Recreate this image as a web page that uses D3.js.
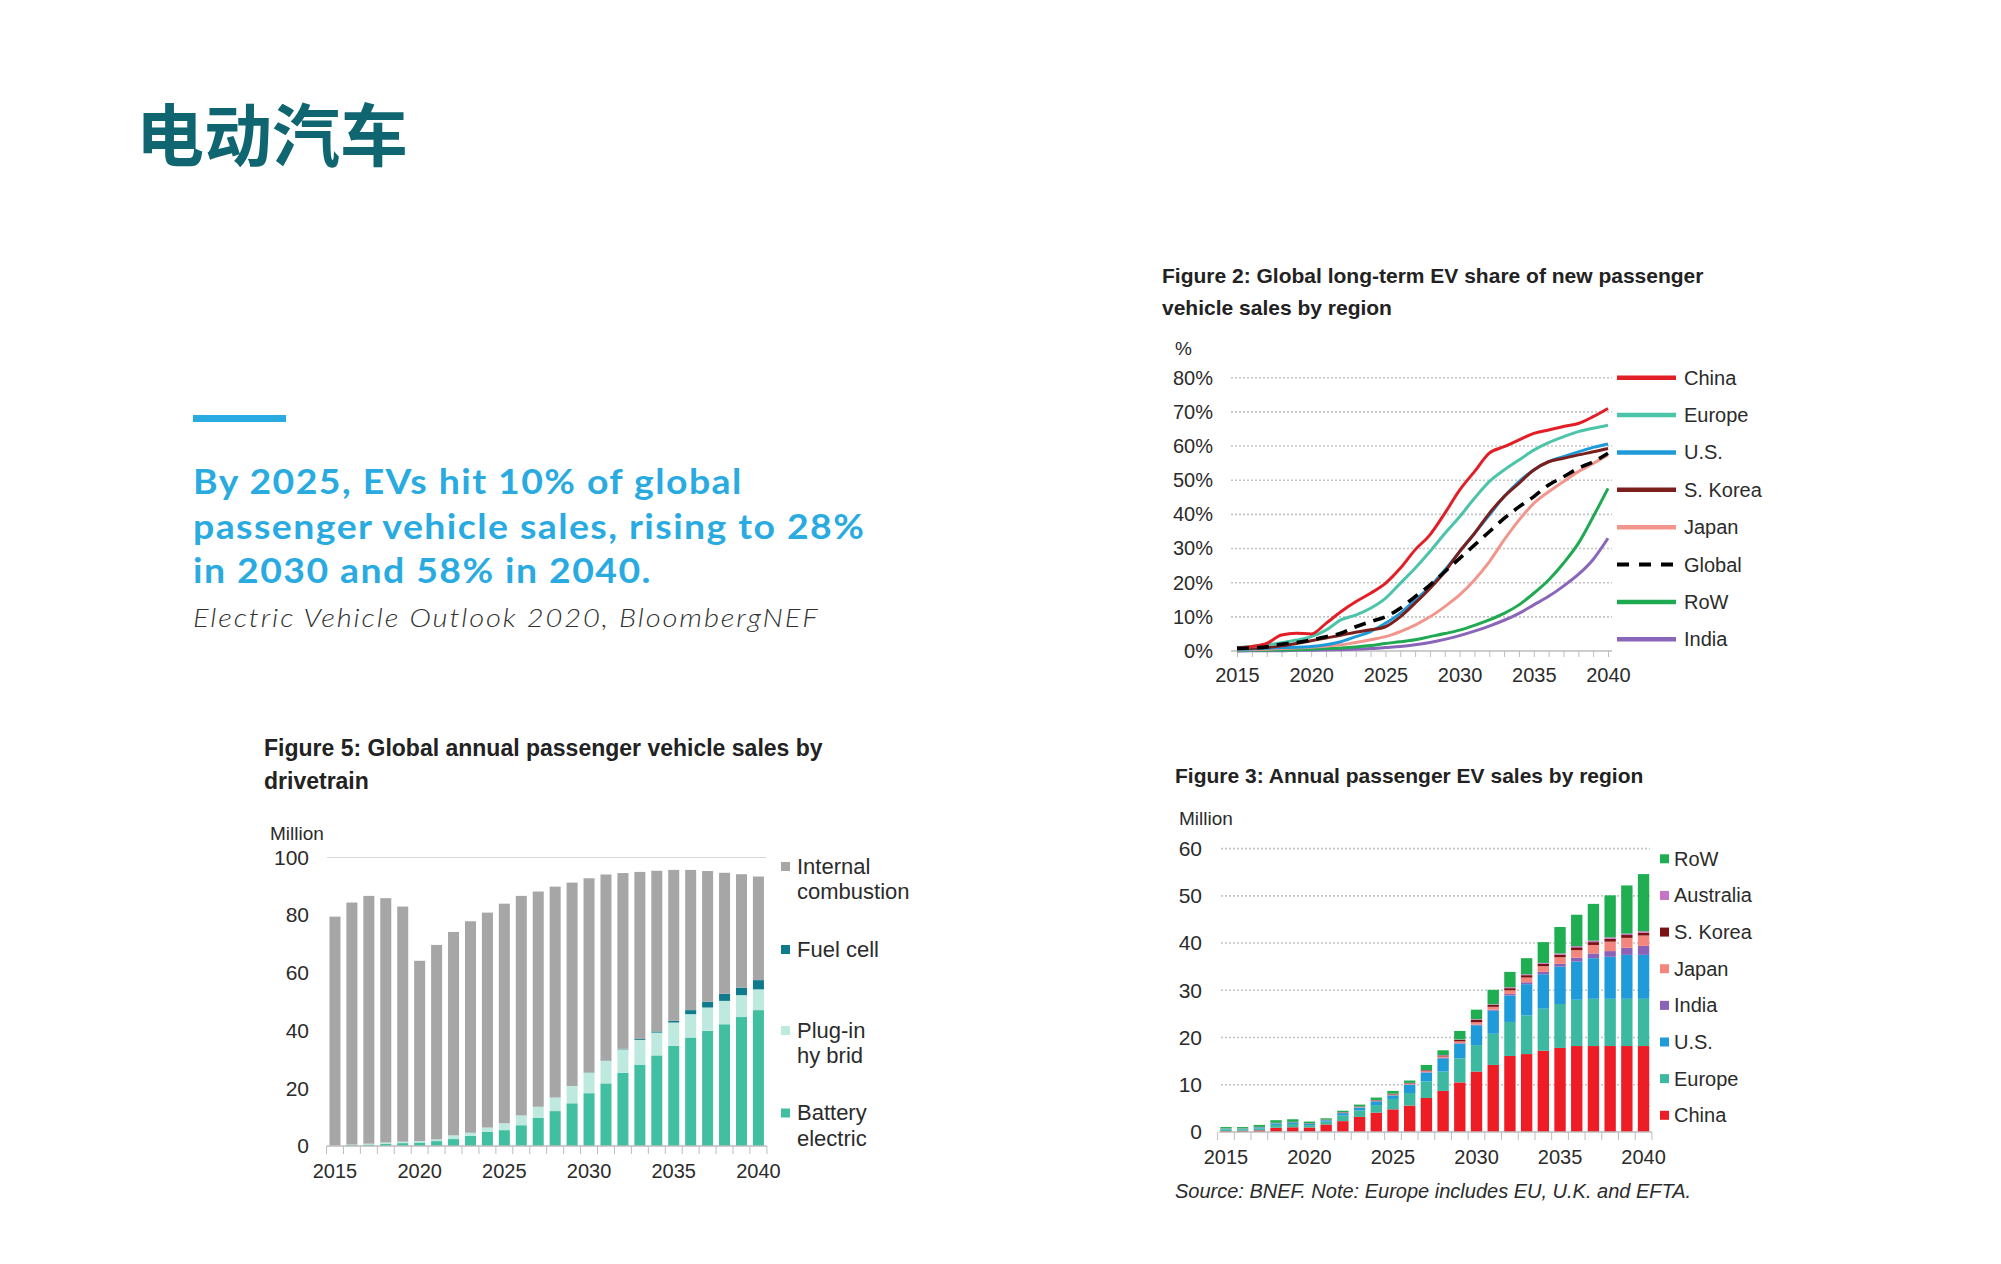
<!DOCTYPE html>
<html><head><meta charset="utf-8">
<script src="https://cdn.jsdelivr.net/npm/d3@7"></script>
<style>body{margin:0;background:#fff;} svg{display:block}</style>
</head><body>
<svg id="c" width="2001" height="1264"></svg>
<script>
// ---------- DATA ----------
const years = [2015,2016,2017,2018,2019,2020,2021,2022,2023,2024,2025,2026,2027,2028,2029,2030,2031,2032,2033,2034,2035,2036,2037,2038,2039,2040];
const yearTicks = [2015,2020,2025,2030,2035,2040];

const pageTitle = "电动汽车";
const headlineLines = ["By 2025, EVs hit 10% of global","passenger vehicle sales, rising to 28%","in 2030 and 58% in 2040."];
const headlineSource = "Electric Vehicle Outlook 2020, BloombergNEF";

// Figure 2: EV share (%) of new passenger vehicle sales
const fig2Title = ["Figure 2: Global long-term EV share of new passenger","vehicle sales by region"];
const fig2YTicks = [0,10,20,30,40,50,60,70,80];
const shareChina  = [0.8,1.3,2.2,4.7,5.2,5.0,8.1,11.5,14.4,16.9,19.8,24.2,29.6,34.0,40.3,47.1,52.5,57.9,59.8,61.8,63.7,64.7,65.7,66.6,68.6,71.0];
const shareEurope = [1.0,1.3,1.8,2.4,3.2,4.2,6.1,9.1,10.5,12.5,15.4,19.8,24.2,29.1,34.4,39.3,44.7,49.6,53.0,55.9,58.8,61.0,62.7,64.2,65.2,66.1];
const shareUS     = [0.5,0.6,0.8,1.0,1.1,1.3,1.8,2.7,4.2,5.7,8.1,11.0,14.9,18.8,23.7,29.1,34.4,39.8,45.2,49.6,53.0,55.4,56.9,58.3,59.6,60.6];
const shareKorea  = [0.6,0.8,1.0,1.5,2.2,3.0,3.8,4.6,5.5,6.2,7.1,10.0,14.0,18.3,23.2,29.1,34.4,40.3,45.2,49.1,53.0,55.4,56.4,57.4,58.3,59.3];
const shareJapan  = [0.3,0.4,0.5,0.7,0.9,1.1,1.4,1.8,2.5,3.3,4.2,5.7,7.6,10.0,13.0,16.4,20.8,26.1,32.5,38.3,43.2,46.6,49.6,52.5,54.9,57.4];
const shareGlobal = [0.8,0.9,1.2,2.0,2.5,3.2,4.2,5.2,7.1,8.6,10.0,12.5,15.9,19.3,23.2,27.1,31.0,34.9,38.8,42.2,45.2,48.6,51.0,53.5,55.4,57.9];
const shareRoW    = [0.1,0.2,0.2,0.3,0.4,0.5,0.7,0.9,1.2,1.6,2.2,2.7,3.3,4.2,5.1,6.1,7.5,9.1,11.0,13.5,16.9,20.8,25.7,31.5,39.3,47.6];
const shareIndia  = [0.0,0.1,0.1,0.1,0.2,0.2,0.3,0.4,0.5,0.7,1.0,1.3,1.8,2.5,3.4,4.5,5.8,7.3,9.0,11.0,13.5,16.0,19.0,22.4,26.8,33.0];
const fig2Names = ["China","Europe","U.S.","S. Korea","Japan","Global","RoW","India"];

// Figure 5: Global annual passenger vehicle sales by drivetrain (million)
const fig5Title = ["Figure 5: Global annual passenger vehicle sales by","drivetrain"];
const fig5YTicks = [0,20,40,60,80,100];
const salesBEV  = [0.2,0.3,0.5,0.8,1.0,1.2,1.7,2.4,3.5,4.9,5.5,7.2,9.8,12.1,14.8,18.3,21.7,25.4,28.2,31.4,34.7,37.6,39.9,42.2,44.7,47.1];
const salesPHEV = [0.1,0.2,0.3,0.4,0.5,0.5,0.6,1.3,1.1,1.5,2.4,3.4,3.8,4.7,6.0,7.1,7.8,8.1,8.6,7.9,8.1,8.1,8.1,8.1,7.6,7.2];
const salesFC   = [0,0,0,0,0,0,0,0,0,0,0,0,0,0,0,0.1,0.1,0.2,0.3,0.4,0.6,1.4,2.0,2.5,2.6,3.2];
const salesICE  = [79.2,83.9,85.9,84.7,81.5,62.5,67.4,70.5,73.3,74.5,76.1,76.1,74.6,73.1,70.5,67.3,64.5,60.9,57.9,55.7,52.3,48.6,45.3,41.9,39.3,35.9];
const fig5Legend = [["Internal","combustion"],["Fuel cell"],["Plug-in","hy brid"],["Battery","electric"]];

// Figure 3: Annual passenger EV sales by region (million)
const fig3Title = "Figure 3: Annual passenger EV sales by region";
const fig3Source = "Source: BNEF. Note: Europe includes EU, U.K. and EFTA.";
const fig3YTicks = [0,10,20,30,40,50,60];
const evChina     = [0.2,0.25,0.35,0.9,1.0,0.95,1.6,2.3,3.2,4.1,4.8,5.6,7.2,8.7,10.5,12.8,14.2,16.1,16.5,17.2,17.8,18.2,18.2,18.2,18.2,18.2];
const evEurope    = [0.35,0.3,0.4,0.6,0.7,0.5,0.6,1.2,1.4,1.6,2.2,2.65,3.5,4.1,5.1,5.6,6.6,7.2,8.2,8.9,9.3,9.8,10.0,10.0,10.0,10.0];
const evUS        = [0.15,0.15,0.25,0.35,0.35,0.3,0.3,0.5,0.6,0.8,0.75,1.75,1.9,2.8,3.1,4.2,4.9,5.6,6.6,7.3,7.9,8.1,8.6,8.9,9.3,9.3];
const evIndia     = [0,0,0,0,0,0,0,0,0,0.02,0.03,0.05,0.05,0.1,0.1,0.15,0.2,0.3,0.4,0.5,0.6,0.8,1.0,1.2,1.5,1.9];
const evJapan     = [0.05,0.05,0.05,0.06,0.05,0.05,0.06,0.1,0.12,0.15,0.18,0.2,0.25,0.3,0.4,0.5,0.6,0.8,1.0,1.2,1.4,1.6,1.8,2.0,2.1,2.2];
const evKorea     = [0.01,0.01,0.02,0.03,0.04,0.05,0.06,0.07,0.08,0.09,0.1,0.1,0.15,0.2,0.3,0.5,0.4,0.45,0.5,0.5,0.55,0.6,0.6,0.6,0.6,0.6];
const evAustralia = [0,0,0.01,0.01,0.01,0.01,0.01,0.02,0.02,0.03,0.04,0.05,0.05,0.1,0.1,0.15,0.15,0.2,0.2,0.2,0.25,0.25,0.3,0.3,0.3,0.3];
const evRoW       = [0.29,0.29,0.42,0.55,0.55,0.35,0.27,0.31,0.38,0.5,0.6,0.5,1.1,1.0,1.8,2.0,3.05,3.25,3.4,4.4,5.6,6.65,7.8,8.9,10.2,12.1];
const fig3Names = ["China","Europe","U.S.","India","Japan","S. Korea","Australia","RoW"];

// ---------- DRAW ----------
const FONT = '"Liberation Sans", Arial, sans-serif';
const TXT = '#2b2b2b';
const svg = d3.select('#c');
svg.append('rect').attr('width',2001).attr('height',1264).attr('fill','#fff');

// widen a text line (wider glyphs + a little tracking) so it spans a target width
function widen(sel, x, y, target, sx){
  const n = sel.text().length;
  const len = sel.node().getComputedTextLength();
  const sp = (target/sx - len) / Math.max(1, n - 1);
  sel.attr('x',0).attr('y',0).attr('letter-spacing', sp)
     .attr('transform', `translate(${x},${y}) scale(${sx},1)`);
}

// Left header
svg.append('text').attr('x',136).attr('y',161).text(pageTitle)
  .attr('font-family','"Noto Sans CJK SC"').attr('font-weight',700).attr('font-size',68).attr('fill','#0f6570');
svg.append('rect').attr('x',193).attr('y',415).attr('width',93).attr('height',7).attr('fill','#29abe2');
const hl = headlineLines.map((t,i)=>svg.append('text').attr('x',193).attr('y',494+i*44.5).text(t)
    .attr('font-family','Lato, "Open Sans", sans-serif').attr('font-weight',700).attr('font-size',34).attr('fill','#29abe2'));
{
  const n = hl[1].text().length, len = hl[1].node().getComputedTextLength();
  const sx = 1.1, sp = (671/sx - len)/(n-1);
  hl.forEach((s,i)=>s.attr('x',0).attr('y',0).attr('letter-spacing',sp)
    .attr('transform',`translate(193,${494+i*44.5}) scale(${sx},1)`));
}
const src = svg.append('text').attr('x',193).attr('y',627).text(headlineSource)
  .attr('font-family','Lato, "Open Sans", sans-serif').attr('font-weight',300).attr('font-style','italic')
  .attr('font-size',26).attr('fill','#333');
widen(src, 193, 627, 625, 1.12);

function txt(g,x,y,t,opt={}){
  return g.append('text').attr('x',x).attr('y',y).text(t)
    .attr('font-family',FONT).attr('font-size',opt.size||20)
    .attr('font-weight',opt.weight||400).attr('font-style',opt.style||'normal')
    .attr('text-anchor',opt.anchor||'start').attr('fill',opt.fill||TXT);
}

// ===== Figure 2 =====
(function(){
  const g = svg.append('g');
  fig2Title.forEach((t,i)=>txt(g,1162,283+i*32,t,{size:21,weight:700,fill:'#222'}));
  txt(g,1175,355,'%',{size:19});
  const x = d3.scaleLinear().domain([2015,2040]).range([1237,1608]);
  const y = d3.scaleLinear().domain([0,80]).range([651,377.7]);
  g.selectAll(null).data(fig2YTicks.filter(d=>d>0)).join('line')
    .attr('x1',1231).attr('x2',1612).attr('y1',d=>y(d)).attr('y2',d=>y(d))
    .attr('stroke','#c4c4c4').attr('stroke-width',1.6).attr('stroke-dasharray','2,2');
  const ya = g.append('g').attr('transform','translate(1213,0)')
    .call(d3.axisLeft(y).tickValues(fig2YTicks).tickSize(0).tickPadding(0).tickFormat(d=>d+'%'));
  ya.select('.domain').remove();
  ya.selectAll('text').attr('font-family',FONT).attr('font-size',20).attr('fill',TXT);
  const xa = g.append('g').attr('transform','translate(0,651)')
    .call(d3.axisBottom(x).tickValues(years).tickSize(6).tickFormat(d=>yearTicks.includes(d)?d:''));
  xa.select('.domain').attr('stroke','#bdbdbd').attr('stroke-width',1.5).attr('d','M1231,0H1612');
  xa.selectAll('line').attr('stroke','#bdbdbd');
  xa.selectAll('text').attr('font-family',FONT).attr('font-size',20).attr('fill',TXT).attr('dy','1.1em');
  const series = [
    {n:'India',v:shareIndia,c:'#8a66bb'},
    {n:'RoW',v:shareRoW,c:'#1faa52'},
    {n:'Japan',v:shareJapan,c:'#f2958c'},
    {n:'U.S.',v:shareUS,c:'#1e9ad8'},
    {n:'S. Korea',v:shareKorea,c:'#7a1f1c'},
    {n:'Europe',v:shareEurope,c:'#4cc4aa'},
    {n:'China',v:shareChina,c:'#e21f26'},
    {n:'Global',v:shareGlobal,c:'#000',dash:'12,8'}
  ];
  const line = d3.line().x((d,i)=>x(years[i])).y(d=>y(d)).curve(d3.curveMonotoneX);
  series.forEach(s=>{
    g.append('path').attr('d',line(s.v)).attr('fill','none').attr('stroke',s.c)
      .attr('stroke-width',s.dash?3.6:3).attr('stroke-dasharray',s.dash||null).attr('stroke-linejoin','round');
  });
  const colorOf = Object.fromEntries(series.map(s=>[s.n,s]));
  fig2Names.forEach((n,i)=>{
    const yy = 377.7 + i*37.37;
    const s = colorOf[n];
    g.append('line').attr('x1',1617).attr('x2',1676).attr('y1',yy).attr('y2',yy)
      .attr('stroke',s.c).attr('stroke-width',s.dash?4:4.5).attr('stroke-dasharray',s.dash?'12,10':null);
    txt(g,1684,yy+7,n,{size:20});
  });
})();

// ===== Figure 5 =====
(function(){
  const g = svg.append('g');
  fig5Title.forEach((t,i)=>txt(g,264,756+i*33,t,{size:23,weight:700,fill:'#222'}));
  txt(g,270,840,'Million',{size:19});
  const x = d3.scaleBand().domain(years).range([326.5,766.9]).paddingInner(0.35).paddingOuter(0.175);
  const y = d3.scaleLinear().domain([0,100]).range([1146,857.5]);
  g.append('line').attr('x1',327).attr('x2',766).attr('y1',y(100)).attr('y2',y(100))
    .attr('stroke','#d9d9d9').attr('stroke-width',1.2);
  const ya = g.append('g').attr('transform','translate(309,0)')
    .call(d3.axisLeft(y).tickValues(fig5YTicks).tickSize(0).tickPadding(0));
  ya.select('.domain').remove();
  ya.selectAll('text').attr('font-family',FONT).attr('font-size',21).attr('fill',TXT);
  const keys = ['BEV','PHEV','FC','ICE'];
  const colors = {BEV:'#41bfa1',PHEV:'#bde9df',FC:'#0e7a8c',ICE:'#a6a6a6'};
  const rows = years.map((yr,i)=>({year:yr,BEV:salesBEV[i],PHEV:salesPHEV[i],FC:salesFC[i],ICE:salesICE[i]}));
  const stack = d3.stack().keys(keys)(rows);
  stack.forEach(layer=>{
    g.selectAll(null).data(layer).join('rect')
      .attr('x',d=>x(d.data.year)).attr('width',x.bandwidth())
      .attr('y',d=>y(d[1])).attr('height',d=>Math.max(0,y(d[0])-y(d[1])))
      .attr('fill',colors[layer.key]);
  });
  g.append('line').attr('x1',327).attr('x2',767).attr('y1',1146).attr('y2',1146).attr('stroke','#bdbdbd').attr('stroke-width',1.5);
  const bounds = years.map(yr=>x(yr)-x.step()*x.paddingInner()/2).concat([x(2040)+x.bandwidth()+x.step()*x.paddingInner()/2]);
  g.selectAll(null).data(bounds).join('line').attr('x1',d=>d).attr('x2',d=>d)
    .attr('y1',1146).attr('y2',1154).attr('stroke','#bdbdbd');
  const xa = g.append('g').attr('transform','translate(0,1146)')
    .call(d3.axisBottom(x).tickValues(yearTicks).tickSize(0).tickPadding(0));
  xa.select('.domain').remove();
  xa.selectAll('text').attr('font-family',FONT).attr('font-size',20).attr('fill',TXT).attr('dy','1.6em');
  const legY = [866.5,949.5,1030.5,1113];
  const legC = [colors.ICE,colors.FC,colors.PHEV,colors.BEV];
  fig5Legend.forEach((lines,i)=>{
    g.append('rect').attr('x',781).attr('y',legY[i]-4.5).attr('width',9).attr('height',9).attr('fill',legC[i]);
    lines.forEach((t,j)=>txt(g,797,legY[i]+7+j*25.5,t,{size:22}));
  });
})();

// ===== Figure 3 =====
(function(){
  const g = svg.append('g');
  txt(g,1175,783,fig3Title,{size:21,weight:700,fill:'#222'});
  txt(g,1179,825,'Million',{size:19});
  const x = d3.scaleBand().domain(years).range([1217.6,1651.9]).paddingInner(0.32).paddingOuter(0.16);
  const y = d3.scaleLinear().domain([0,60]).range([1132,848.6]);
  g.selectAll(null).data(fig3YTicks.filter(d=>d>0)).join('line')
    .attr('x1',1221).attr('x2',1650).attr('y1',d=>y(d)).attr('y2',d=>y(d))
    .attr('stroke','#c4c4c4').attr('stroke-width',1.6).attr('stroke-dasharray','2,2');
  const ya = g.append('g').attr('transform','translate(1202,0)')
    .call(d3.axisLeft(y).tickValues(fig3YTicks).tickSize(0).tickPadding(0));
  ya.select('.domain').remove();
  ya.selectAll('text').attr('font-family',FONT).attr('font-size',21).attr('fill',TXT);
  const regionData = {"China":evChina,"Europe":evEurope,"U.S.":evUS,"India":evIndia,"Japan":evJapan,"S. Korea":evKorea,"Australia":evAustralia,"RoW":evRoW};
  const colors = {"China":"#ee1c25","Europe":"#3db8a1","U.S.":"#1e9bd8","India":"#8a63b8","Japan":"#f4877d","S. Korea":"#7b1113","Australia":"#c774c5","RoW":"#1fae52"};
  const rows = years.map((yr,i)=>{const r={year:yr}; fig3Names.forEach(n=>r[n]=regionData[n][i]); return r;});
  const stack = d3.stack().keys(fig3Names)(rows);
  stack.forEach(layer=>{
    g.selectAll(null).data(layer).join('rect')
      .attr('x',d=>x(d.data.year)).attr('width',x.bandwidth())
      .attr('y',d=>y(d[1])).attr('height',d=>Math.max(0,y(d[0])-y(d[1])))
      .attr('fill',colors[layer.key]);
  });
  g.append('line').attr('x1',1219).attr('x2',1652).attr('y1',1132).attr('y2',1132).attr('stroke','#bdbdbd').attr('stroke-width',1.5);
  const bounds = years.map(yr=>x(yr)-x.step()*x.paddingInner()/2).concat([x(2040)+x.bandwidth()+x.step()*x.paddingInner()/2]);
  g.selectAll(null).data(bounds).join('line').attr('x1',d=>d).attr('x2',d=>d)
    .attr('y1',1132).attr('y2',1140).attr('stroke','#bdbdbd');
  const xa = g.append('g').attr('transform','translate(0,1132)')
    .call(d3.axisBottom(x).tickValues(yearTicks).tickSize(0).tickPadding(0));
  xa.select('.domain').remove();
  xa.selectAll('text').attr('font-family',FONT).attr('font-size',20).attr('fill',TXT).attr('dy','1.6em');
  const legOrder = fig3Names.slice().reverse();
  legOrder.forEach((n,i)=>{
    const yy = 858.8 + i*36.64;
    g.append('rect').attr('x',1660).attr('y',yy-4.5).attr('width',9).attr('height',9).attr('fill',colors[n]);
    txt(g,1674,yy+7,n,{size:20});
  });
  txt(g,1175,1198,fig3Source,{size:20,style:'italic'});
})();
</script>
</body></html>
